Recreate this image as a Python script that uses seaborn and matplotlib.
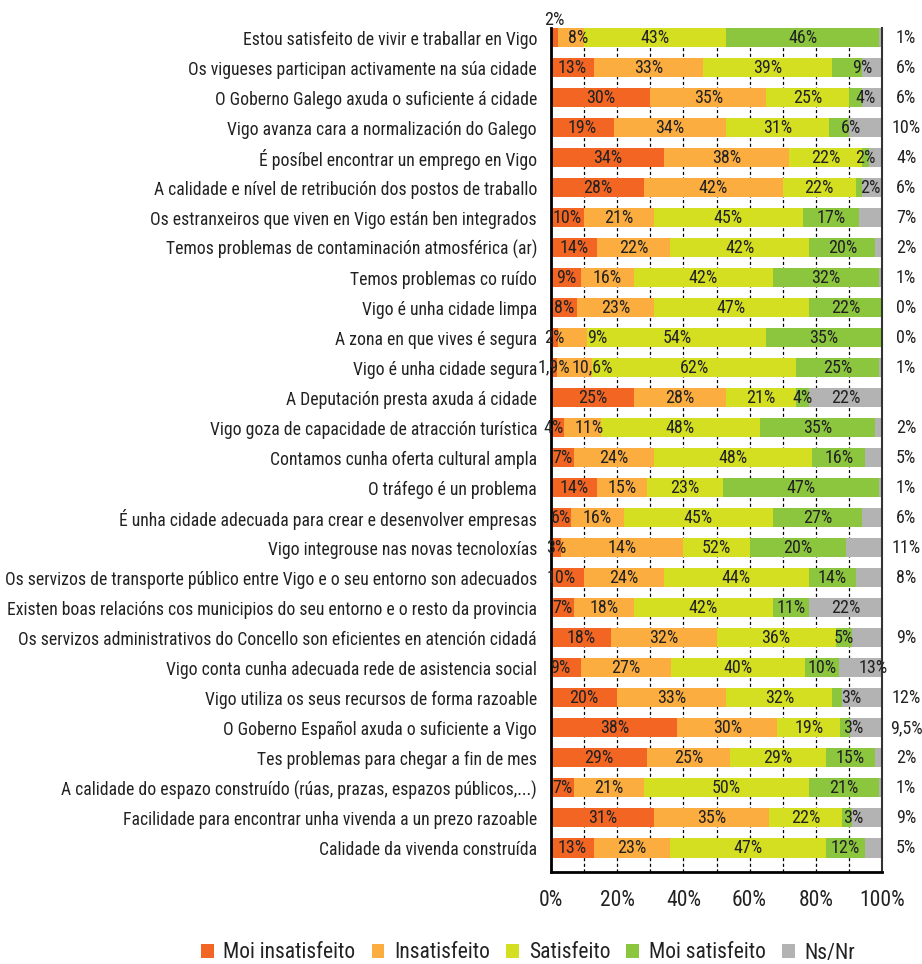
import numpy as np
import pandas as pd
import matplotlib
matplotlib.use("Agg")
import matplotlib.pyplot as plt
import seaborn as sns
from matplotlib.patches import Patch

categories = [
    "Estou satisfeito de vivir e traballar en Vigo",
    "Os vigueses participan activamente na súa cidade",
    "O Goberno Galego axuda o suficiente á cidade",
    "Vigo avanza cara a normalización do Galego",
    "É posíbel encontrar un emprego en Vigo",
    "A calidade e nível de retribución dos postos de traballo",
    "Os estranxeiros que viven en Vigo están ben integrados",
    "Temos problemas de contaminación atmosférica (ar)",
    "Temos problemas co ruído",
    "Vigo é unha cidade limpa",
    "A zona en que vives é segura",
    "Vigo é unha cidade segura",
    "A Deputación presta axuda á cidade",
    "Vigo goza de capacidade de atracción turística",
    "Contamos cunha oferta cultural ampla",
    "O tráfego é un problema",
    "É unha cidade adecuada para crear e desenvolver empresas",
    "Vigo integrouse nas novas tecnoloxías",
    "Os servizos de transporte público entre Vigo e o seu entorno son adecuados",
    "Existen boas relacións cos municipios do seu entorno e o resto da provincia",
    "Os servizos administrativos do Concello son eficientes en atención cidadá",
    "Vigo conta cunha adecuada rede de asistencia social",
    "Vigo utiliza os seus recursos de forma razoable",
    "O Goberno Español axuda o suficiente a Vigo",
    "Tes problemas para chegar a fin de mes",
    "A calidade do espazo construído (rúas, prazas, espazos públicos,...)",
    "Facilidade para encontrar unha vivenda a un prezo razoable",
    "Calidade da vivenda construída",
]

series_names = ["Moi insatisfeito", "Insatisfeito", "Satisfeito", "Moi satisfeito", "Ns/Nr"]

# bar lengths as drawn (percent)
moi_insatisfeito = [2, 13, 30, 19, 34, 28, 10, 14, 9, 8, 2, 1.9, 25, 4, 7, 14, 6, 3, 10, 7, 18, 9, 20, 38, 29, 7, 31, 13]
insatisfeito = [8, 33, 35, 34, 38, 42, 21, 22, 16, 23, 9, 10.6, 28, 11, 24, 15, 16, 37, 24, 18, 32, 27, 33, 30, 25, 21, 35, 23]
satisfeito = [43, 39, 25, 31, 22, 22, 45, 42, 42, 47, 54, 62, 21, 48, 48, 23, 45, 20, 44, 42, 36, 40, 32, 19, 29, 50, 22, 47]
moi_satisfeito = [46, 9, 4, 6, 2, 2, 17, 20, 32, 22, 35, 25, 4, 35, 16, 47, 27, 29, 14, 11, 5, 10, 3, 3, 15, 21, 3, 12]
ns_nr = [1, 6, 6, 10, 4, 6, 7, 2, 1, 0, 0, 1, 22, 2, 5, 1, 6, 11, 8, 22, 9, 13, 12, 9.5, 2, 1, 9, 5]

# printed labels that differ from the drawn bar lengths
label_overrides = {("Vigo integrouse nas novas tecnoloxías", 1): "14%",
                   ("Vigo integrouse nas novas tecnoloxías", 2): "52%",
                   ("Vigo integrouse nas novas tecnoloxías", 3): "20%"}

# rows whose Ns/Nr label sits inside the bar instead of on the right
ns_inside = {"A Deputación presta axuda á cidade",
             "Existen boas relacións cos municipios do seu entorno e o resto da provincia",
             "Vigo conta cunha adecuada rede de asistencia social"}

tick_values = [0, 20, 40, 60, 80, 100]
tick_labels = ["0%", "20%", "40%", "60%", "80%", "100%"]

colors = ["#F26522", "#FBAD3F", "#D5DF21", "#8CC63F", "#B3B3B3"]

FONT = ["Roboto Condensed", "DejaVu Sans"]
sns.set_theme(style="white")
plt.rcParams["font.family"] = FONT
plt.rcParams["font.weight"] = 400
TXT = "#222222"

raw = np.array([moi_insatisfeito, insatisfeito, satisfeito, moi_satisfeito, ns_nr], dtype=float).T
totals = raw.sum(axis=1, keepdims=True)
scaled = raw / totals * 100
cum = np.cumsum(scaled, axis=1)

fig = plt.figure(figsize=(9.22, 9.64), dpi=100)
ax = fig.add_axes([551/922, 1-872/964, 331/922, (872-28)/964])

# stacked bars: draw cumulative totals from widest to narrowest
for k in range(4, -1, -1):
    df = pd.DataFrame({"cat": categories, "val": cum[:, k]})
    sns.barplot(data=df, x="val", y="cat", orient="h", color=colors[k],
                width=0.634, saturation=1, ax=ax, linewidth=0, zorder=2)

ax.set_xlim(0, 100)
ax.set_ylim(len(categories) - 0.2, -0.317)
ax.set_xticks(tick_values)
ax.set_xticklabels(tick_labels, fontsize=15.5, color=TXT)
ax.set_xticks(np.arange(10, 100, 10), minor=True)
ax.xaxis.grid(True, which="both", linestyle=(0, (2.5, 2)), color="black", linewidth=0.9, zorder=0)
ax.set_axisbelow(True)
ax.set_xlabel("")
ax.set_ylabel("")
ax.tick_params(axis="x", which="both", length=0, pad=13)
ax.tick_params(axis="y", length=0, pad=10)
for lbl in ax.get_yticklabels():
    lbl.set_fontsize(12.7)
    lbl.set_color(TXT)

ax.spines["top"].set_visible(False)
ax.spines["left"].set_color("black")
ax.spines["left"].set_linewidth(2)
ax.spines["bottom"].set_color("black")
ax.spines["bottom"].set_linewidth(2)
ax.spines["right"].set_color("#333333")
ax.spines["right"].set_linewidth(1.5)


def fmt(v):
    if float(v).is_integer():
        return f"{int(v)}%"
    return f"{v:.1f}".replace(".", ",") + "%"


# label nudges in pixels: (row, series) -> (dx, dy)
nudges = {(0, 0): (0, -18), (0, 1): (7, 0), (1, 3): (15, 0), (2, 3): (10, 0), (3, 3): (12, 0),
          (5, 3): (11, 0), (10, 1): (25, 0), (11, 1): (18, 0), (13, 0): (-4, 0), (13, 1): (7, 0),
          (18, 0): (-6, 0), (21, 0): (-6, 0), (21, 4): (13, 0), (22, 3): (14, 0),
          (23, 3): (8, 0), (26, 3): (6, 0)}
px = 100 / 331.0

for i, cat in enumerate(categories):
    for k in range(5):
        start = cum[i, k] - scaled[i, k]
        center = start + scaled[i, k] / 2
        dx, dy = nudges.get((i, k), (0, 0))
        text = label_overrides.get((cat, k), fmt(raw[i, k]))
        if k == 4 and cat not in ns_inside:
            ax.text(107.3, i, text, ha="center", va="center",
                    fontsize=13, color=TXT, clip_on=False)
            continue
        ax.text(center + dx * px, i + dy / 30.0, text, ha="center", va="center",
                fontsize=13, color=TXT, clip_on=False, zorder=5)

handles = [Patch(facecolor=c, edgecolor="none") for c in colors]
fig.legend(handles, series_names, loc="center", bbox_to_anchor=(528/922, 1-953/964),
           ncol=5, frameon=False, fontsize=15.5, handlelength=0.6, handleheight=0.6,
           handletextpad=0.45, columnspacing=0.75, labelcolor=TXT, borderpad=0.1)

fig.savefig("out.png", dpi=100, facecolor="white")
